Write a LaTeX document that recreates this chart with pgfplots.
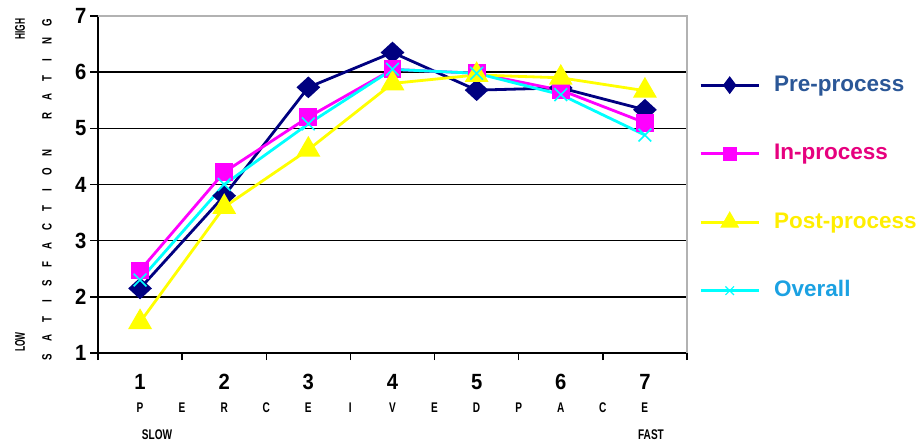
\documentclass[border=0pt]{standalone}
\usepackage{pgfplots}
\pgfplotsset{compat=1.18}
\usepackage{fontspec}
\setmainfont{Liberation Sans}
\newfontfamily\cond[FakeStretch=0.72]{Liberation Sans}
\newfontfamily\condx[FakeStretch=0.6]{Liberation Sans}
\newfontfamily\numf[FakeStretch=0.92]{Liberation Sans}
\definecolor{preC}{HTML}{000080}
\definecolor{inC}{HTML}{FF00FF}
\definecolor{postC}{HTML}{FFFF00}
\definecolor{allC}{HTML}{00FFFF}
\definecolor{preT}{HTML}{2B5797}
\definecolor{inT}{HTML}{E6007E}
\definecolor{postT}{HTML}{FFEE00}
\definecolor{allT}{HTML}{1BA1E2}
\begin{document}
\begin{tikzpicture}
\path[use as bounding box] (0pt,0pt) rectangle (919pt,445pt);
\begin{axis}[
  at={(98pt,92pt)}, anchor=south west,
  scale only axis, width=589pt, height=337pt,
  xmin=0.5, xmax=7.5, ymin=1, ymax=7,
  axis x line*=bottom, axis y line*=left,
  axis line style={line width=1.8pt, black, -},
  xtick={1,...,7}, ytick={1,...,7},
  minor xtick={0.5,1.5,...,7.5},
  major x tick style={draw=none},
  minor x tick style={black, line width=1.4pt},
  major y tick style={black, line width=1.4pt},
  tick align=outside,
  major tick length=8pt, minor tick length=7pt,
  ymajorgrids, major grid style={black, line width=1.6pt},
  /pgf/number format/assume math mode=true,
  ticklabel style={font=\numf\bfseries\fontsize{22}{22}\selectfont},
  xticklabel style={yshift=-10pt},
  clip=false,
  legend style={at={(rel axis cs:1.0204,0.828)}, anchor=north west,
    draw=none, fill=none, inner sep=0pt, row sep=46.5pt, column sep=0pt,
    font=\bfseries\fontsize{22.5}{22.5}\selectfont,
    nodes={inner sep=0pt, text height=17pt, text depth=5pt}},
  legend cell align=left,
  legend image code/.code={\draw[mark repeat=2, mark phase=2] plot coordinates {(0pt,0pt) (29pt,0pt) (58pt,0pt)};},
]
\addplot[preC, line width=2.8pt, mark=diamond*, mark size=9pt, mark options={xscale=1.45}, forget plot] coordinates {(1,2.15)(2,3.8)(3,5.73)(4,6.35)(5,5.68)(6,5.72)(7,5.33)};
\addplot[inC, line width=2.8pt, mark=square*, mark size=7.5pt, forget plot] coordinates {(1,2.47)(2,4.22)(3,5.2)(4,6.05)(5,5.98)(6,5.68)(7,5.1)};
\addplot[postC, line width=2.8pt, mark=triangle*, mark size=11pt, forget plot] coordinates {(1,1.55)(2,3.6)(3,4.62)(4,5.8)(5,5.95)(6,5.9)(7,5.67)};
\addplot[allC, line width=2.8pt, mark=x, mark size=9pt, mark options={line width=1.6pt}, forget plot] coordinates {(1,2.3)(2,4.0)(3,5.08)(4,6.05)(5,5.98)(6,5.6)(7,4.88)};
\draw[gray!60, line width=1.6pt] (rel axis cs:0,1) -- (rel axis cs:1,1) -- (rel axis cs:1,0);
\addlegendimage{preC, line width=3pt, mark=diamond*, mark size=6.5pt}
\addlegendentry{\hspace{14pt}\textcolor{preT}{Pre-process}}
\addlegendimage{inC, line width=3pt, mark=square*, mark size=5.5pt}
\addlegendentry{\hspace{14pt}\textcolor{inT}{In-process}}
\addlegendimage{postC, line width=3pt, mark=triangle*, mark size=8pt}
\addlegendentry{\hspace{14pt}\textcolor{postT}{Post-process}}
\addlegendimage{allC, line width=3pt, mark=x, mark size=6pt, mark options={line width=1.2pt}}
\addlegendentry{\hspace{14pt}\textcolor{allT}{Overall}}
\end{axis}
\foreach \L [count=\k from 0] in {S,A,T,I,S,F,A,C,T,I,O,N,{},R,A,T,I,N,G}
  \node[rotate=90, inner sep=0pt, font=\cond\bfseries\fontsize{13.5}{13.5}\selectfont] at (47pt, 88pt+\k*18.56pt) {\L};
\node[rotate=90, inner sep=0pt, font=\condx\bfseries\fontsize{14}{14}\selectfont] at (20pt,416pt) {HIGH};
\node[rotate=90, inner sep=0pt, font=\condx\bfseries\fontsize{14}{14}\selectfont] at (20pt,103pt) {LOW};
\foreach \L [count=\k from 0] in {P,E,R,C,E,I,V,E,D,P,A,C,E}
  \node[inner sep=0pt, font=\cond\bfseries\fontsize{14}{14}\selectfont] at (140pt+\k*42.07pt, 37pt) {\L};
\node[inner sep=0pt, font=\cond\bfseries\fontsize{14}{14}\selectfont] at (157pt,10pt) {SLOW};
\node[inner sep=0pt, font=\cond\bfseries\fontsize{14}{14}\selectfont] at (651pt,10pt) {FAST};
\end{tikzpicture}
\end{document}
